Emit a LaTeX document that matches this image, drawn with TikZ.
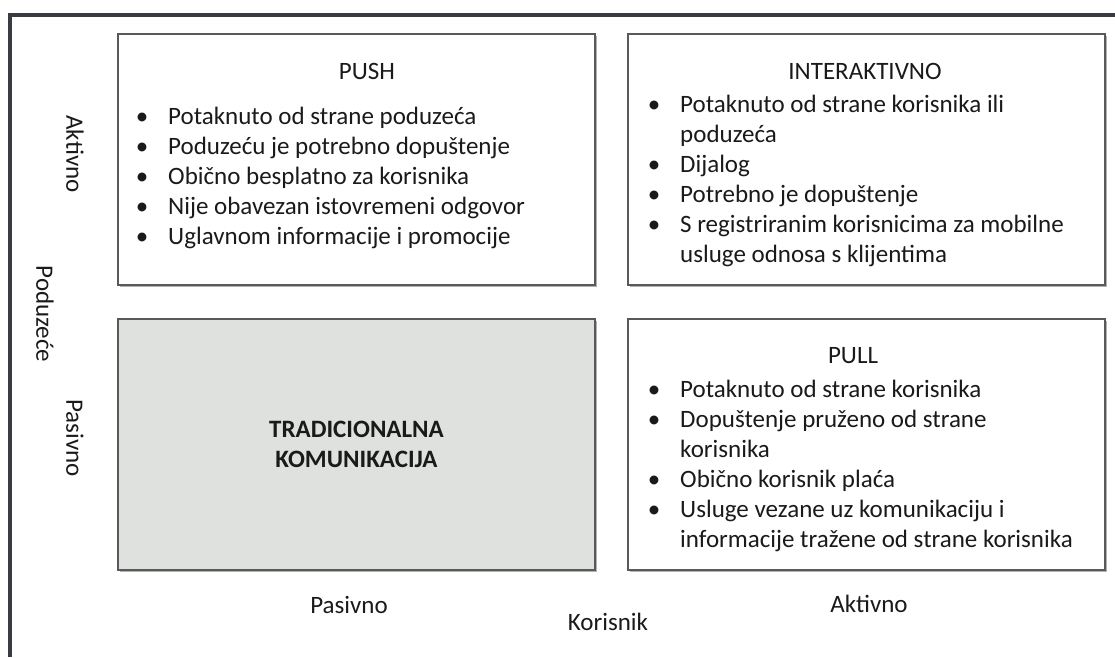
\documentclass[tikz,border=0pt]{standalone}
\usepackage{fontspec}
\setmainfont{Carlito}
\usetikzlibrary{shadows}
\definecolor{framec}{HTML}{383C42}
\definecolor{boxc}{HTML}{595959}
\definecolor{grayfill}{HTML}{DFE1DF}
\definecolor{txtc}{HTML}{1A1A1A}
\begin{document}
\begin{tikzpicture}[x=1pt,y=-1pt,
  quad/.style={draw=boxc, line width=2pt, fill=white, anchor=north west, inner sep=0pt,
    minimum width=477pt, minimum height=251pt,
    drop shadow={shadow xshift=2pt, shadow yshift=-2pt, fill=black!30, opacity=1}},
  fnt/.style={font=\fontsize{25}{30}\selectfont, text=txtc, inner sep=0pt},
  txt/.style={fnt, anchor=base west},
  ttl/.style={fnt, anchor=base},
  bul/.style={fnt, anchor=base},
  axl/.style={fnt, anchor=center, rotate=-90},
  axb/.style={fnt, anchor=base}]
\useasboundingbox (0,0) rectangle (1115,657);
\fill[white] (0,0) rectangle (1115,657);
% outer frame (left and top only)
\coordinate (fTL) at (10.3,14.5);
\coordinate (fTR) at (1115,14.5);
\coordinate (fBL) at (10.3,657);
\draw[framec, line width=4pt] (fBL) -- (fTL) -- (fTR);

% quadrants
\node[quad] (push) at (117,33) {};
\node[quad] (inter) at (627,33) {};
\node[quad, fill=grayfill] (trad) at (117,317.5) {};
\node[quad] (pull) at (627,317.5) {};

% PUSH
\node[ttl] (pushT) at (367,79) {PUSH};
\foreach \y [count=\i] in {124,154,184,214,244} \node[bul] (pushB\i) at (142,\y) {•};
\foreach \y/\t [count=\i] in {124/Potaknuto od strane poduzeća,
  154/Poduzeću je potrebno dopuštenje,
  184/Obično besplatno za korisnika,
  214/Nije obavezan istovremeni odgovor,
  244/Uglavnom informacije i promocije}
  \node[txt] (pushL\i) at (168,\y) {\t};

% INTERAKTIVNO
\node[ttl] (interT) at (865,79) {INTERAKTIVNO};
\foreach \y [count=\i] in {112,172,202,232} \node[bul] (interB\i) at (654,\y) {•};
\foreach \y/\t [count=\i] in {112/Potaknuto od strane korisnika ili,
  142/poduzeća,
  172/Dijalog,
  202/Potrebno je dopuštenje,
  232/S registriranim korisnicima za mobilne,
  262/usluge odnosa s klijentima}
  \node[txt] (interL\i) at (680,\y) {\t};

% TRADICIONALNA KOMUNIKACIJA
\node[fnt, font=\fontsize{25}{30}\selectfont\bfseries, align=center] (tradT) at (trad.center) {TRADICIONALNA\\KOMUNIKACIJA};

% PULL
\node[ttl] (pullT) at (853,363) {PULL};
\foreach \y [count=\i] in {397,427,487,517} \node[bul] (pullB\i) at (654,\y) {•};
\foreach \y/\t [count=\i] in {397/Potaknuto od strane korisnika,
  427/Dopuštenje pruženo od strane,
  457/korisnika,
  487/Obično korisnik plaća,
  517/Usluge vezane uz komunikaciju i,
  547/informacije tražene od strane korisnika}
  \node[txt] (pullL\i) at (680,\y) {\t};

% axis labels
\node[axl] (yAkt) at (75,154) {Aktivno};
\node[axl] (yPod) at (45,314) {Poduzeće};
\node[axl] (yPas) at (75,438) {Pasivno};
\node[axb] (xPas) at (349,613) {Pasivno};
\node[axb] (xKor) at (608,630) {Korisnik};
\node[axb] (xAkt) at (869,612) {Aktivno};
\end{tikzpicture}
\end{document}
